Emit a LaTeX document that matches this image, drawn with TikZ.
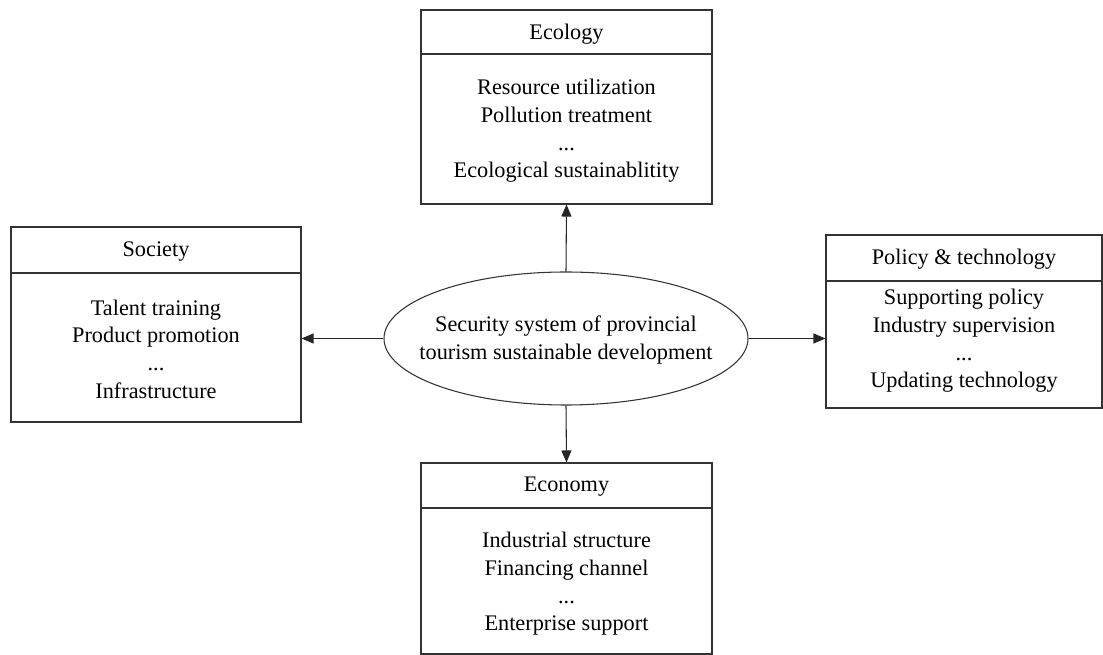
\documentclass[tikz,border=0pt]{standalone}
\usepackage{fontspec}
\setmainfont{Liberation Serif}
\usetikzlibrary{shapes.geometric,arrows.meta}
\begin{document}
\begin{tikzpicture}[x=0.75pt,y=-0.75pt,
  box/.style={draw=black!80,line width=0.8pt,rectangle,inner sep=0pt},
  txt/.style={font=\fontsize{16.7}{20.8}\selectfont,align=center,inner sep=0pt,text=black},
  hline/.style={draw=black!80,line width=0.8pt},
  conn/.style={draw=black!85,line width=0.8pt,-{Triangle[length=9pt,width=7.5pt]}}]
\useasboundingbox (0,0) rectangle (1103,655);
% boxes
\node[box,minimum width=218.25pt,minimum height=145.5pt] (eco) at (566.5,107) {};
\node[box,minimum width=217.5pt,minimum height=146.25pt] (soc) at (156,324.5) {};
\node[box,minimum width=207pt,minimum height=129.75pt] (pol) at (964,321.5) {};
\node[box,minimum width=218.25pt,minimum height=143.25pt] (econ) at (566.5,558.5) {};
% header lines
\draw[hline] (eco.west |- 0,54) -- (eco.east |- 0,54);
\draw[hline] (soc.west |- 0,273) -- (soc.east |- 0,273);
\draw[hline] (pol.west |- 0,281) -- (pol.east |- 0,281);
\draw[hline] (econ.west |- 0,508) -- (econ.east |- 0,508);
% titles
\node[txt] (ecot) at (566.5,34) {Ecology};
\node[txt] (soct) at (156,252) {Society};
\node[txt] (polt) at (964,259) {Policy \& technology};
\node[txt] (econt) at (566.5,487) {Economy};
% bodies
\node[txt] (ecob) at (566.5,131) {Resource utilization\\Pollution treatment\\...\\Ecological sustainablitity};
\node[txt] (socb) at (156,349) {Talent training\\Product promotion\\...\\Infrastructure};
\node[txt] (polb) at (964,341) {Supporting policy\\Industry supervision\\...\\Updating technology};
\node[txt] (econb) at (566.5,584) {Industrial structure\\Financing channel\\...\\Enterprise support};
% center ellipse
\node[ellipse,draw=black!80,line width=0.8pt,minimum width=273pt,minimum height=99.75pt,inner sep=0pt] (c) at (566,338.5) {};
\node[txt] (ct) at (566,340) {Security system of provincial\\tourism sustainable development};
% connectors
\draw[conn] (c.north) -- (eco.south);
\draw[conn] (c.south) -- (econ.north);
\draw[conn] (c.west) -- (c.west -| soc.east);
\draw[conn] (c.east) -- (c.east -| pol.west);
\end{tikzpicture}
\end{document}
